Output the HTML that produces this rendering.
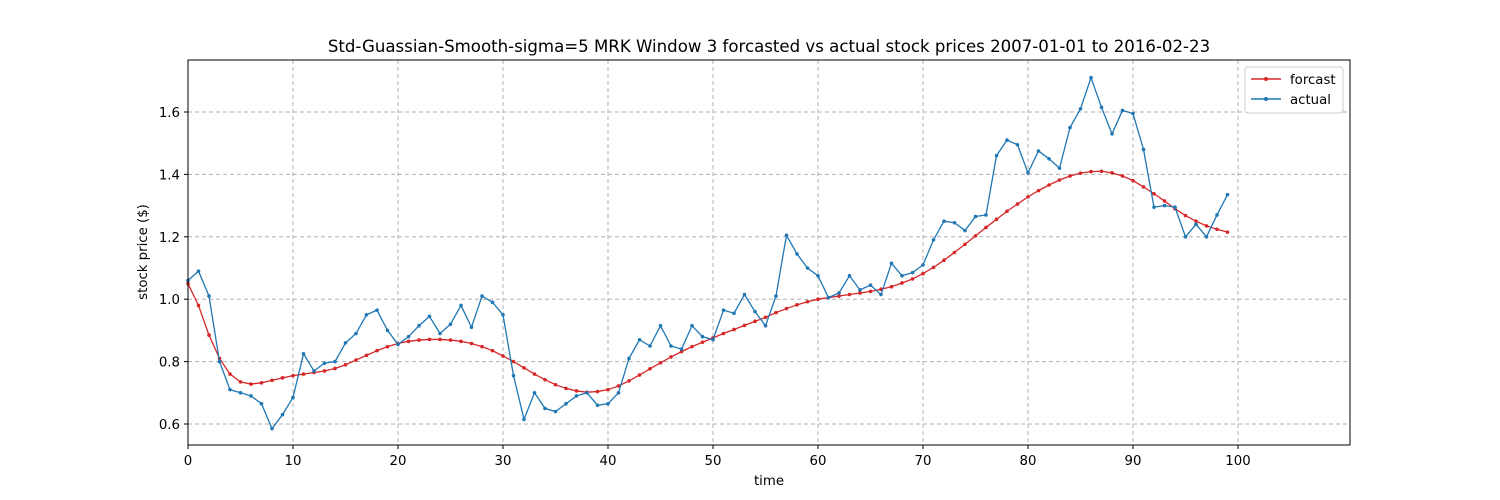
<!DOCTYPE html>
<html><head><meta charset="utf-8"><style>
body{margin:0;background:#fff;}
svg{display:block;font-family:"DejaVu Sans","Liberation Sans",sans-serif;}
</style></head><body>
<svg id="chart" width="1500" height="500" viewBox="0 0 1500 500">
<rect width="1500" height="500" fill="#fff"/>
<text x="769" y="52" text-anchor="middle" font-size="16.6">Std-Guassian-Smooth-sigma=5 MRK Window 3 forcasted vs actual stock prices 2007-01-01 to 2016-02-23</text>
<g id="grid"></g>
<g id="axes"></g>
<g id="series"></g>
<rect x="188" y="60" width="1162" height="385" fill="none" stroke="#000" stroke-width="1"/>
<text x="769" y="485" text-anchor="middle" font-size="13.3">time</text>
<text transform="translate(147,252) rotate(-90)" text-anchor="middle" font-size="13.3">stock price ($)</text>
<g>
<rect x="1245" y="67" width="98" height="46" rx="3" fill="#fff" stroke="#ccc"/>
<g>
<line x1="1251" y1="79" x2="1281" y2="79" stroke="#d62728" stroke-width="1.5"/><circle cx="1266" cy="79" r="2" fill="#d62728"/>
<text x="1290" y="84" font-size="13.3">forcast</text></g>
<g>
<line x1="1251" y1="99" x2="1281" y2="99" stroke="#1f77b4" stroke-width="1.5"/><circle cx="1266" cy="99" r="2" fill="#1f77b4"/>
<text x="1290" y="104" font-size="13.3">actual</text></g>
</g>
</svg>
<script>
const xTicks=[0,10,20,30,40,50,60,70,80,90,100];
const yTicks=[0.6,0.8,1.0,1.2,1.4,1.6];
const yTickLabels=["0.6","0.8","1.0","1.2","1.4","1.6"];
const actual=[1.06,1.09,1.01,0.80,0.71,0.70,0.69,0.665,0.585,0.63,0.685,0.825,0.77,0.795,0.80,0.86,0.89,0.95,0.965,0.90,0.855,0.88,0.915,0.945,0.89,0.92,0.98,0.91,1.01,0.99,0.95,0.755,0.615,0.70,0.65,0.64,0.665,0.69,0.70,0.66,0.665,0.70,0.81,0.87,0.85,0.915,0.85,0.84,0.915,0.88,0.87,0.965,0.955,1.015,0.96,0.915,1.01,1.205,1.145,1.10,1.075,1.005,1.02,1.075,1.03,1.045,1.015,1.115,1.075,1.085,1.11,1.19,1.25,1.245,1.22,1.265,1.27,1.46,1.51,1.495,1.405,1.475,1.45,1.42,1.55,1.61,1.71,1.615,1.53,1.605,1.595,1.48,1.295,1.30,1.295,1.20,1.24,1.20,1.27,1.335];
const forcast=[1.05,0.98,0.885,0.81,0.76,0.735,0.728,0.732,0.74,0.748,0.755,0.76,0.765,0.77,0.778,0.79,0.805,0.82,0.835,0.848,0.858,0.865,0.869,0.871,0.871,0.869,0.865,0.858,0.848,0.835,0.818,0.8,0.78,0.76,0.742,0.726,0.714,0.706,0.702,0.704,0.71,0.722,0.738,0.757,0.777,0.796,0.815,0.832,0.848,0.862,0.876,0.89,0.903,0.916,0.929,0.942,0.957,0.97,0.982,0.992,1.0,1.005,1.01,1.015,1.02,1.025,1.032,1.04,1.052,1.065,1.082,1.102,1.125,1.15,1.176,1.203,1.23,1.256,1.282,1.305,1.328,1.348,1.366,1.382,1.395,1.404,1.409,1.41,1.405,1.395,1.38,1.36,1.338,1.315,1.29,1.268,1.25,1.235,1.224,1.215];
const X=v=>188+v*10.5;
const Y=v=>424-(v-0.6)*312;
const NS="http://www.w3.org/2000/svg";
function mk(tag,attrs,parent){const e=document.createElementNS(NS,tag);for(const k in attrs)e.setAttribute(k,attrs[k]);parent.appendChild(e);return e;}
const grid=document.getElementById('grid'),axes=document.getElementById('axes'),series=document.getElementById('series');
xTicks.forEach(t=>{
 const g=mk('line',{x1:X(t),x2:X(t),y1:60,y2:445,stroke:'#b0b0b0','stroke-dasharray':'4,3'},grid);
 
 
 mk('line',{x1:X(t),x2:X(t),y1:445,y2:449,stroke:'#000'},axes);
 const l=mk('text',{x:X(t),y:465,'text-anchor':'middle','font-size':13.3},axes);
 l.textContent=t;
 
 
});
yTicks.forEach((t,i)=>{
 const g=mk('line',{x1:188,x2:1350,y1:Y(t),y2:Y(t),stroke:'#b0b0b0','stroke-dasharray':'4,3'},grid);
 
 
 mk('line',{x1:184,x2:188,y1:Y(t),y2:Y(t),stroke:'#000'},axes);
 const l=mk('text',{x:180,y:Y(t)+5,'text-anchor':'end','font-size':13.3},axes);
 l.textContent=yTickLabels[i];
 
 
});
function draw(data,color,name){
 const p=mk('polyline',{points:data.map((v,i)=>X(i)+','+Y(v)).join(' '),fill:'none',stroke:color,'stroke-width':1.3},series);
 
 
 data.forEach((v,i)=>{
  const c=mk('circle',{cx:X(i),cy:Y(v),r:1.8,fill:color},series);
  
  
 });
}
draw(forcast,'#d62728','forcast');
draw(actual,'#1f77b4','actual');
</script>
</body></html>
